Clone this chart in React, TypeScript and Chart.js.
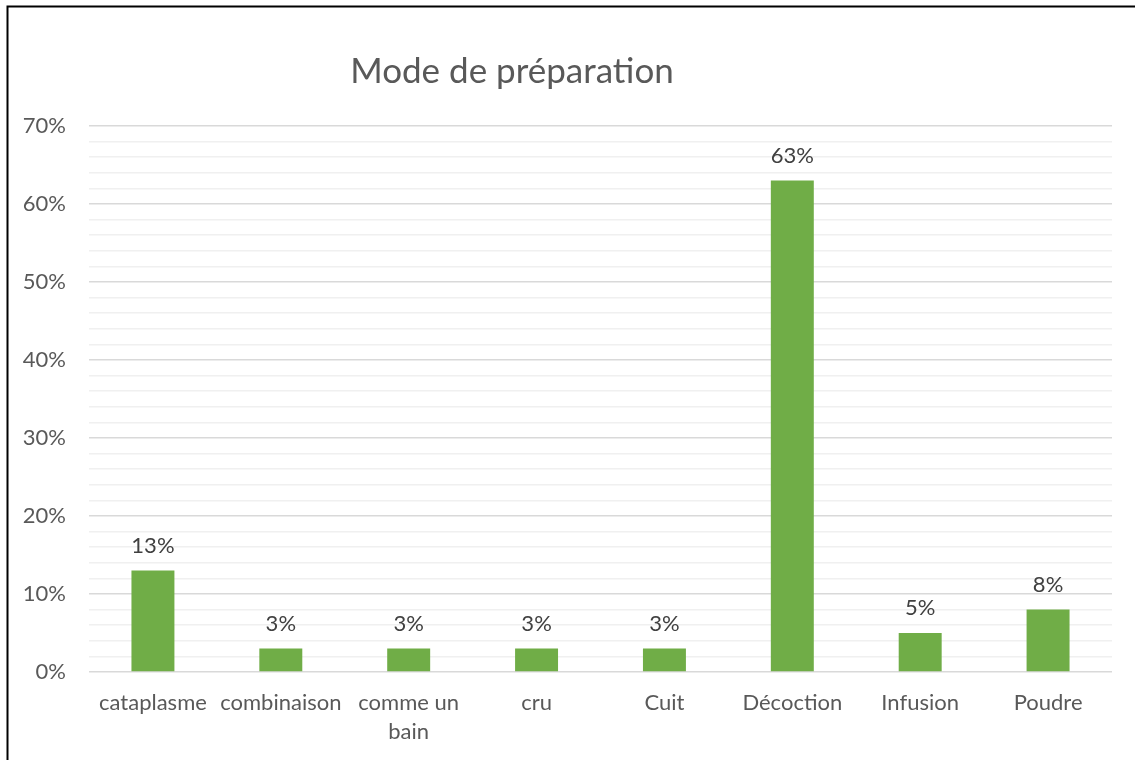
import React, { useEffect, useRef } from "react";
import { Chart, registerables } from "chart.js";

Chart.register(...registerables);

const categories: (string | string[])[] = [
  "cataplasme",
  "combinaison",
  ["comme un", "bain"],
  "cru",
  "Cuit",
  "Décoction",
  "Infusion",
  "Poudre",
];
const values = [13, 3, 3, 3, 3, 63, 5, 8];
const chartTitle = "Mode de préparation";

const FONT = "Lato, 'Open Sans', sans-serif";

const framePlugin = {
  id: "frame",
  afterDraw(chart: any) {
    const ctx = chart.ctx;
    ctx.save();
    ctx.strokeStyle = "#000000";
    ctx.lineWidth = 2;
    ctx.beginPath();
    ctx.moveTo(7.5, 770);
    ctx.lineTo(7.5, 6.5);
    ctx.lineTo(1140, 6.5);
    ctx.stroke();
    // title
    ctx.fillStyle = "#595959";
    ctx.font = `35px ${FONT}`;
    ctx.textAlign = "center";
    ctx.textBaseline = "middle";
    ctx.fillText(chartTitle, 512, 72);
    ctx.restore();
  },
};

const labelPlugin = {
  id: "barLabels",
  afterDatasetsDraw(chart: any) {
    const ctx = chart.ctx;
    const meta = chart.getDatasetMeta(0);
    ctx.save();
    ctx.fillStyle = "#404040";
    ctx.font = `22px ${FONT}`;
    ctx.textAlign = "center";
    ctx.textBaseline = "middle";
    meta.data.forEach((bar: any, i: number) => {
      ctx.fillText(values[i] + "%", bar.x, bar.y - 25);
    });
    ctx.restore();
  },
};

export default function App() {
  const ref = useRef<HTMLCanvasElement>(null);
  useEffect(() => {
    if (!ref.current) return;
    const chart = new Chart(ref.current, {
      type: "bar",
      data: {
        labels: categories,
        datasets: [
          {
            data: values,
            backgroundColor: "#70AD47",
            barPercentage: 0.336,
            categoryPercentage: 1,
          },
        ],
      },
      options: {
        animation: false,
        responsive: false,
        maintainAspectRatio: false,
        layout: { padding: { top: 126, right: 23, left: 0, bottom: 0 } },
        plugins: {
          legend: { display: false },
          title: { display: false },
          tooltip: { enabled: false },
        },
        scales: {
          x: {
            grid: { display: false, drawTicks: false },
            border: { display: false },
            ticks: {
              color: "#595959",
              font: { family: FONT, size: 22, lineHeight: 1.3 },
              padding: 17,
              maxRotation: 0,
              autoSkip: false,
            },
            afterFit: (s: any) => {
              s.height = 88;
            },
          },
          y: {
            min: 0,
            max: 70,
            grid: {
              drawTicks: false,
              color: (c: any) => (c.tick && c.tick.value % 10 === 0 ? "#d9d9d9" : "#f0f0f0"),
              lineWidth: 1.5,
            },
            border: { display: false },
            ticks: {
              stepSize: 2,
              autoSkip: false,
              color: "#595959",
              font: { family: FONT, size: 22 },
              padding: 23,
              callback: (v: any) => (Number(v) % 10 === 0 ? v + "%" : ""),
            },
            afterFit: (s: any) => {
              s.width = 89;
            },
          },
        },
      },
      plugins: [framePlugin, labelPlugin],
    });
    return () => chart.destroy();
  }, []);
  return (
    <div style={{ position: "fixed", left: 0, top: 0, width: 1135, height: 760, background: "#fff" }}>
      <canvas ref={ref} width={1135} height={760} style={{ display: "block" }} />
    </div>
  );
}
